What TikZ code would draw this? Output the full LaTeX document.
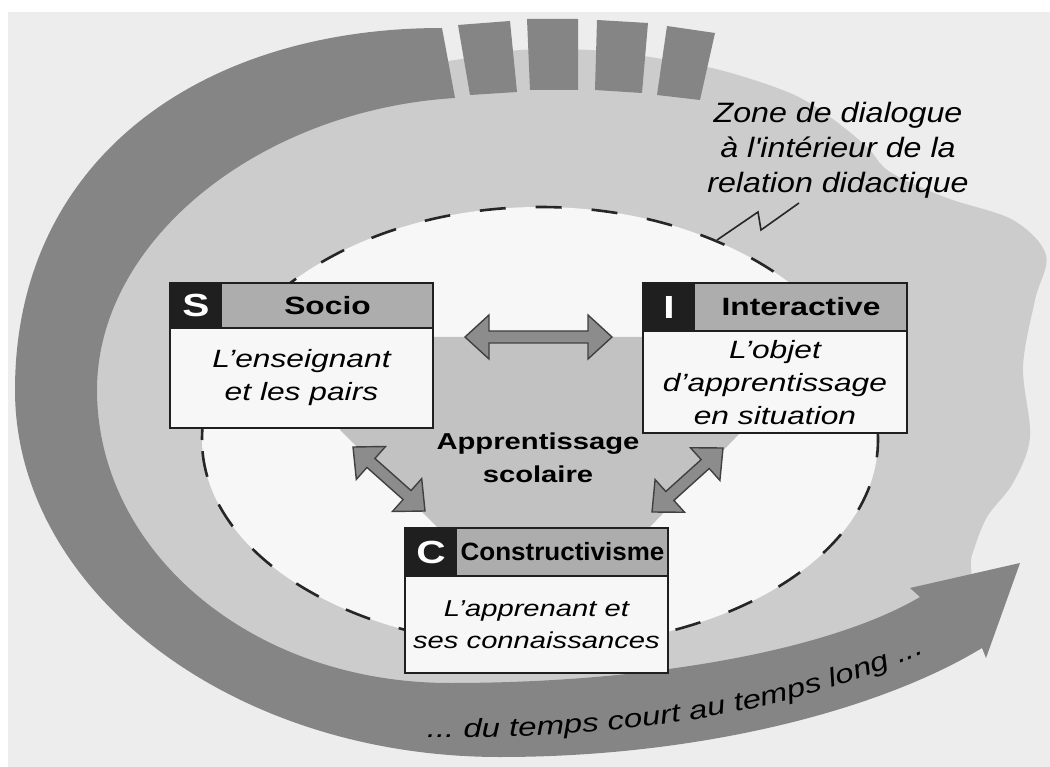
\documentclass[tikz,border=0pt]{standalone}
\usepackage{fontspec}
\setmainfont{Liberation Sans}[FakeStretch=1.27]
\newfontfamily\narrowfont{Liberation Sans}[FakeStretch=1.04]
\newfontfamily\zonefont{Liberation Sans}[FakeStretch=1.15]
\usetikzlibrary{calc,decorations.text}

\definecolor{pagegray}{gray}{0.93}
\definecolor{zonegray}{gray}{0.80}
\definecolor{coregray}{gray}{0.76}
\definecolor{bandgray}{gray}{0.52}
\definecolor{headgray}{gray}{0.68}
\definecolor{arrowgray}{gray}{0.55}
\definecolor{inkdark}{gray}{0.12}
\definecolor{innerwhite}{gray}{0.97}

% block double arrow between two named coordinates
\newcommand\blockarrow[2]{%
  \coordinate (#1-#2-p) at ($(#1)!24pt!(#2)$);
  \coordinate (#1-#2-q) at ($(#2)!24pt!(#1)$);
  \filldraw[arrowbody] (#1)
    -- ($(#1-#2-p)!22pt!90:(#2)$)
    -- ($(#1-#2-p)!6pt!90:(#2)$)
    -- ($(#1-#2-q)!6pt!-90:(#1)$)
    -- ($(#1-#2-q)!22pt!-90:(#1)$)
    -- (#2)
    -- ($(#1-#2-q)!22pt!90:(#1)$)
    -- ($(#1-#2-q)!6pt!90:(#1)$)
    -- ($(#1-#2-p)!6pt!-90:(#2)$)
    -- ($(#1-#2-p)!22pt!-90:(#2)$)
    -- cycle;}

\begin{document}
\begin{tikzpicture}[x=1pt,y=-1pt,
  boxframe/.style={draw=inkdark, line width=2.2pt, fill=innerwhite, anchor=north west, inner sep=0pt, outer sep=0pt},
  headbar/.style={draw=inkdark, line width=2pt, fill=headgray, anchor=north west, inner sep=0pt, outer sep=0pt},
  lettersq/.style={fill=inkdark, text=white, anchor=north west, inner sep=0pt, outer sep=0pt, font=\bfseries\fontsize{32}{32}\selectfont},
  headtext/.style={inner sep=0pt, font=\bfseries\fontsize{25}{30}\selectfont},
  bodytext/.style={inner sep=0pt, align=center, font=\itshape\fontsize{25}{33}\selectfont},
  arrowbody/.style={fill=arrowgray, draw=inkdark!85, line width=1.4pt, line join=miter},
  ovaldash/.style={draw=black!85, line width=2.6pt, dash pattern=on 26pt off 30pt},
]
\useasboundingbox (0,0) rectangle (1050,767);

% page
\fill[white] (0,0) rectangle (1050,767);
\fill[pagegray] (8,12) rectangle (1050,767);

% zone of dialogue (light cloud)
\fill[zonegray] plot[smooth cycle, tension=0.55] coordinates {
  (455,60) (520,50) (590,50) (650,57) (720,70) (790,93) (830,117) (867,147)
  (890,172) (947,198) (1013,220) (1046,255) (1035,300) (1023,367) (1030,437)
  (1013,483) (987,517) (972,555) (955,610) (800,692) (475,720) (310,694)
  (177,622) (92,525) (56,390) (105,235) (216,126) (330,80)};

% long-time arrow band
\fill[bandgray] (442,28) .. controls (200,28) and (15,160) .. (15,390)
  .. controls (15,590) and (230,757) .. (500,757)
  .. controls (700,757) and (880,710) .. (982,648)
  -- (986,658) -- (1020,563) -- (910,588) -- (920,597)
  .. controls (830,650) and (650,683) .. (450,683)
  .. controls (250,683) and (97,550) .. (97,390)
  .. controls (97,240) and (260,110) .. (455,98) -- cycle;

% short-time blocks
\fill[bandgray] (458,25) -- (510,21) -- (517,92) -- (470,95) -- cycle;
\fill[bandgray] (527,19) -- (578,19) -- (578,90) -- (530,90) -- cycle;
\fill[bandgray] (597,20) -- (648,23) -- (642,93) -- (595,90) -- cycle;
\fill[bandgray] (667,26) -- (715,33) -- (700,100) -- (657,95) -- cycle;

% time label along the band
\path[decorate, decoration={text along path, text align=center,
  text={|\itshape\fontsize{26}{30}\selectfont|... du temps court au temps long ...}}]
  (415,737) .. controls (600,740) and (780,720) .. (935,648);

% didactic relation (dashed oval)
\fill[innerwhite] (202,440) arc[start angle=180, end angle=0, x radius=338pt, y radius=233pt]
  arc[start angle=0, end angle=-180, x radius=338pt, y radius=207pt] -- cycle;
\draw[ovaldash] (202,440) arc[start angle=180, end angle=0, x radius=338pt, y radius=233pt]
  arc[start angle=0, end angle=-180, x radius=338pt, y radius=207pt] -- cycle;

% school learning core
\fill[coregray] (340,337) -- (740,337) -- (740,433) -- (650,527) -- (437,527) -- (340,430) -- cycle;
\node[inner sep=0pt, align=center, font=\bfseries\fontsize{23}{33}\selectfont] (core) at (538,458) {Apprentissage\\scolaire};

% zone label and pointer
\node[inner sep=0pt, align=center, font=\zonefont\itshape\fontsize{28}{35}\selectfont] (zone) at (838,150)
  {Zone de dialogue\\à l'intérieur de la\\relation didactique};
\draw[line width=1.6pt, black!85] (799,203) -- (761,230) -- (758,212) -- (717,240);

% S box
\node[boxframe, minimum width=263pt, minimum height=145pt] (sbox) at (170,283) {};
\node[headbar, minimum width=263pt, minimum height=45pt] (shead) at (170,283) {};
\node[lettersq, minimum width=52pt, minimum height=45pt] (sletter) at (170,283) {S};
\node[headtext] (stitle) at (327.5,306) {Socio};
\node[bodytext] (stext) at (301.5,378) {L'enseignant\\et les pairs};

% I box
\node[boxframe, minimum width=264pt, minimum height=150pt] (ibox) at (643,283) {};
\node[headbar, minimum width=264pt, minimum height=48pt] (ihead) at (643,283) {};
\node[lettersq, minimum width=52pt, minimum height=48pt] (iletter) at (643,283) {I};
\node[headtext] (ititle) at (801,307) {Interactive};
\node[bodytext] (itext) at (775,383) {L'objet\\d'apprentissage\\en situation};

% C box
\node[boxframe, minimum width=263pt, minimum height=145pt] (cbox) at (405,528) {};
\node[headbar, minimum width=263pt, minimum height=48pt] (chead) at (405,528) {};
\node[lettersq, minimum width=52pt, minimum height=48pt] (cletter) at (405,528) {C};
\node[headtext, font=\narrowfont\bfseries\fontsize{25}{30}\selectfont] (ctitle) at (562.5,552) {Constructivisme};
\node[bodytext, font=\itshape\fontsize{23}{32}\selectfont] (ctext) at (536.5,625) {L'apprenant et\\ses connaissances};

% exchanges between the three poles
\coordinate (si-a) at ($(sbox.north east)+(32,54)$);
\coordinate (si-b) at ($(ibox.north west)+(-31,54)$);
\coordinate (sc-a) at ($(sbox.south east)+(-80,19)$);
\coordinate (sc-b) at ($(cbox.north west)+(20,-17)$);
\coordinate (ic-a) at ($(ibox.south west)+(80,15)$);
\coordinate (ic-b) at ($(cbox.north east)+(-16,-16)$);
\blockarrow{si-a}{si-b}
\blockarrow{sc-a}{sc-b}
\blockarrow{ic-a}{ic-b}
\end{tikzpicture}
\end{document}
